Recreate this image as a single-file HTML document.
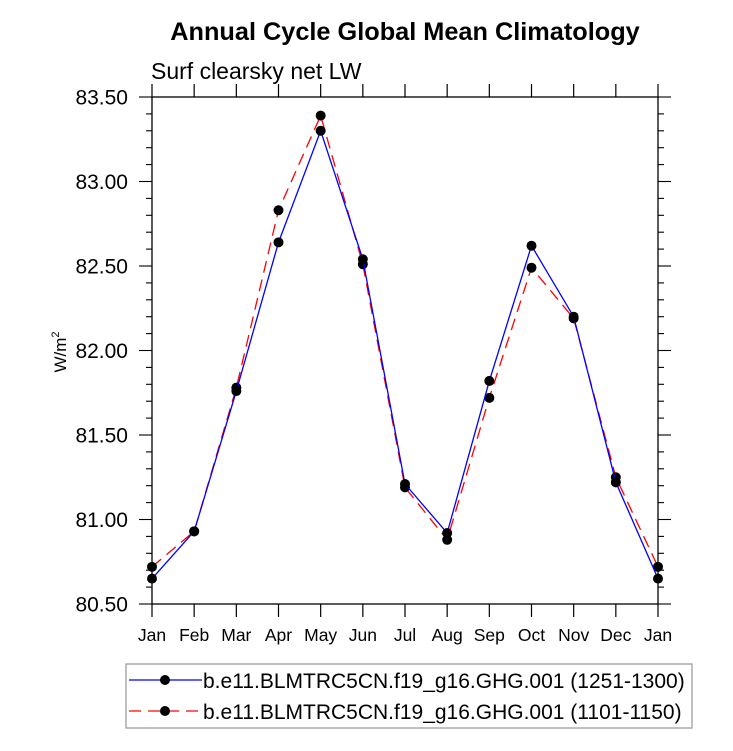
<!DOCTYPE html>
<html><head><meta charset="utf-8"><style>
body{margin:0;background:#fff}
svg{display:block;font-family:"Liberation Sans",Arial,sans-serif}
</style></head><body>
<svg id="chart" width="733" height="751" viewBox="0 0 733 751">
<text x="405" y="40" text-anchor="middle" font-size="25.3" font-weight="bold">Annual Cycle Global Mean Climatology</text>
<text x="151" y="79" font-size="23">Surf clearsky net LW</text>
<text transform="translate(66,352) rotate(-90)" text-anchor="middle" font-size="17">W/m<tspan dy="-7" font-size="11">2</tspan></text>
<g id="axes"></g>
<g id="series"></g>
<g id="legend">
<rect x="126" y="664" width="566" height="64" fill="#fff" stroke="#aaa" stroke-width="1.5"/>
<g>
<line x1="129" y1="680" x2="202" y2="680" stroke="#0000ff" stroke-width="1.3"/>
<circle cx="165" cy="680" r="5" fill="#000"/>
<text x="203" y="688" font-size="21">b.e11.BLMTRC5CN.f19_g16.GHG.001 (1251-1300)</text>
</g>
<g>
<line x1="129" y1="711" x2="202" y2="711" stroke="#ff0000" stroke-width="1.3" stroke-dasharray="12,7"/>
<circle cx="165" cy="711" r="5" fill="#000"/>
<text x="203" y="719" font-size="21">b.e11.BLMTRC5CN.f19_g16.GHG.001 (1101-1150)</text>
</g>
</g>
</svg>
<script>
const months = ["Jan","Feb","Mar","Apr","May","Jun","Jul","Aug","Sep","Oct","Nov","Dec","Jan"];
const series1251 = [80.65,80.93,81.76,82.64,83.30,82.54,81.21,80.92,81.82,82.62,82.20,81.22,80.65];
const series1101 = [80.72,80.93,81.78,82.83,83.39,82.51,81.19,80.88,81.72,82.49,82.19,81.25,80.72];
const yTickLabels = ["80.50","81.00","81.50","82.00","82.50","83.00","83.50"];
const yMin = 80.5, yMax = 83.5;
const L=152,R=658,T=97,B=604;
const NS="http://www.w3.org/2000/svg";
const xS=i=>L+(R-L)*i/(months.length-1);
const yS=v=>B-(B-T)*(v-yMin)/(yMax-yMin);
function mk(tag,attrs,parent){const e=document.createElementNS(NS,tag);for(const k in attrs)e.setAttribute(k,attrs[k]);parent.appendChild(e);return e;}
const ax=document.getElementById('axes');
const frame=mk('rect',{x:L,y:T,width:R-L,height:B-T,fill:'none',stroke:'#000','stroke-width':1.3},ax);


months.forEach((m,i)=>{
  const x=xS(i);
  mk('line',{x1:x,y1:B,x2:x,y2:B+13,stroke:'#000','stroke-width':1.2},ax);
  mk('line',{x1:x,y1:T,x2:x,y2:T-13,stroke:'#000','stroke-width':1.2},ax);
  const t=mk('text',{x:x,y:B+37,'text-anchor':'middle','font-size':17.5},ax);
  t.textContent=m;
  
  
});
for(let v=yMin;v<=yMax+1e-9;v+=0.1){
  const y=yS(v);const major=Math.abs((v-yMin)/0.5-Math.round((v-yMin)/0.5))<1e-6;
  const len=major?13:6;
  mk('line',{x1:L,y1:y,x2:L-len,y2:y,stroke:'#000','stroke-width':1.1},ax);
  mk('line',{x1:R,y1:y,x2:R+len,y2:y,stroke:'#000','stroke-width':1.1},ax);
}
yTickLabels.forEach(lbl=>{
  const t=mk('text',{x:128,y:yS(parseFloat(lbl))+7.5,'text-anchor':'end','font-size':21},ax);
  t.textContent=lbl;
  
  
});
const sg=document.getElementById('series');
function draw(vals,color,dash,name){
  const g=mk('g',{},sg);
  
  
  const pts=vals.map((v,i)=>xS(i)+','+yS(v)).join(' ');
  const a={points:pts,fill:'none',stroke:color,'stroke-width':1.3};
  if(dash)a['stroke-dasharray']=dash;
  mk('polyline',a,g);
  vals.forEach((v,i)=>{
    const c=mk('circle',{cx:xS(i),cy:yS(v),r:5,fill:'#000'},g);
    
    
  });
}
draw(series1101,'#ff0000','12,7','series-1101-1150');
draw(series1251,'#0000ff',null,'series-1251-1300');
</script>
</body></html>
